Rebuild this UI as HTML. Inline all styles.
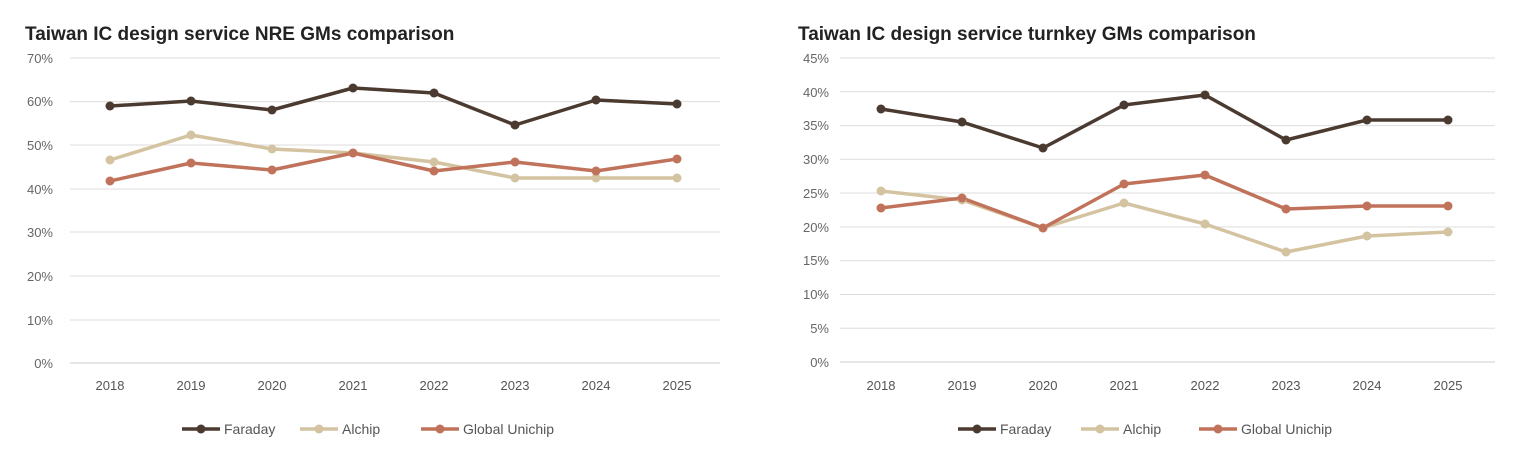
<!DOCTYPE html><html><head><style>body{margin:0;background:#fff;width:1538px;height:458px;overflow:hidden}svg text{font-family:"Liberation Sans",sans-serif}</style></head><body>
<svg width="1538" height="458" xmlns="http://www.w3.org/2000/svg">
<g font-size="13" fill="#666">
<text x="25" y="40" font-size="19" font-weight="bold" fill="#222">Taiwan IC design service NRE GMs comparison</text>
<text x="798" y="40" font-size="19" font-weight="bold" fill="#222">Taiwan IC design service turnkey GMs comparison</text>
</g>
<g stroke="#ddd" stroke-width="1">
<line x1="70" x2="720" y1="58" y2="58"/><line x1="70" x2="720" y1="101.6" y2="101.6"/><line x1="70" x2="720" y1="145" y2="145"/><line x1="70" x2="720" y1="189" y2="189"/><line x1="70" x2="720" y1="232" y2="232"/><line x1="70" x2="720" y1="276" y2="276"/><line x1="70" x2="720" y1="320" y2="320"/><line x1="70" x2="720" y1="363" y2="363" stroke="#ccc"/>
<line x1="840" x2="1495" y1="58" y2="58"/><line x1="840" x2="1495" y1="91.8" y2="91.8"/><line x1="840" x2="1495" y1="125.6" y2="125.6"/><line x1="840" x2="1495" y1="159.3" y2="159.3"/><line x1="840" x2="1495" y1="193" y2="193"/><line x1="840" x2="1495" y1="227" y2="227"/><line x1="840" x2="1495" y1="260.7" y2="260.7"/><line x1="840" x2="1495" y1="294.5" y2="294.5"/><line x1="840" x2="1495" y1="328.3" y2="328.3"/><line x1="840" x2="1495" y1="362" y2="362" stroke="#ccc"/>
</g>
<g font-size="13" fill="#666" text-anchor="end">
<text x="53" y="63">70%</text><text x="53" y="106">60%</text><text x="53" y="150">50%</text><text x="53" y="194">40%</text><text x="53" y="237">30%</text><text x="53" y="281">20%</text><text x="53" y="325">10%</text><text x="53" y="368">0%</text>
<text x="829" y="63">45%</text><text x="829" y="97">40%</text><text x="829" y="130">35%</text><text x="829" y="164">30%</text><text x="829" y="198">25%</text><text x="829" y="232">20%</text><text x="829" y="265">15%</text><text x="829" y="299">10%</text><text x="829" y="333">5%</text><text x="829" y="367">0%</text>
</g>
<g font-size="13" fill="#555" text-anchor="middle">
<text x="110" y="390">2018</text><text x="191" y="390">2019</text><text x="272" y="390">2020</text><text x="353" y="390">2021</text><text x="434" y="390">2022</text><text x="515" y="390">2023</text><text x="596" y="390">2024</text><text x="677" y="390">2025</text>
<text x="881" y="390">2018</text><text x="962" y="390">2019</text><text x="1043" y="390">2020</text><text x="1124" y="390">2021</text><text x="1205" y="390">2022</text><text x="1286" y="390">2023</text><text x="1367" y="390">2024</text><text x="1448" y="390">2025</text>
</g>
<g fill="none" stroke-width="3.5" stroke-linejoin="round">
<polyline stroke="#d4c3a0" points="110,160 191,135 272,149 353,153 434,162 515,178 596,178 677,178"/>
<polyline stroke="#c0735a" points="110,181 191,163 272,170 353,153 434,171 515,162 596,171 677,159"/>
<polyline stroke="#4a3a30" points="110,106 191,101 272,110 353,88 434,93 515,125 596,100 677,104"/>
<polyline stroke="#d4c3a0" points="881,191 962,200 1043,228 1124,203 1205,224 1286,252 1367,236 1448,232"/>
<polyline stroke="#c0735a" points="881,208 962,198 1043,228 1124,184 1205,175 1286,209 1367,206 1448,206"/>
<polyline stroke="#4a3a30" points="881,109 962,122 1043,148 1124,105 1205,95 1286,140 1367,120 1448,120"/>
</g>
<g fill="#d4c3a0"><circle cx="110" cy="160" r="4.5"/><circle cx="191" cy="135" r="4.5"/><circle cx="272" cy="149" r="4.5"/><circle cx="353" cy="153" r="4.5"/><circle cx="434" cy="162" r="4.5"/><circle cx="515" cy="178" r="4.5"/><circle cx="596" cy="178" r="4.5"/><circle cx="677" cy="178" r="4.5"/>
<circle cx="881" cy="191" r="4.5"/><circle cx="962" cy="200" r="4.5"/><circle cx="1043" cy="228" r="4.5"/><circle cx="1124" cy="203" r="4.5"/><circle cx="1205" cy="224" r="4.5"/><circle cx="1286" cy="252" r="4.5"/><circle cx="1367" cy="236" r="4.5"/><circle cx="1448" cy="232" r="4.5"/></g>
<g fill="#c0735a"><circle cx="110" cy="181" r="4.5"/><circle cx="191" cy="163" r="4.5"/><circle cx="272" cy="170" r="4.5"/><circle cx="353" cy="153" r="4.5"/><circle cx="434" cy="171" r="4.5"/><circle cx="515" cy="162" r="4.5"/><circle cx="596" cy="171" r="4.5"/><circle cx="677" cy="159" r="4.5"/>
<circle cx="881" cy="208" r="4.5"/><circle cx="962" cy="198" r="4.5"/><circle cx="1043" cy="228" r="4.5"/><circle cx="1124" cy="184" r="4.5"/><circle cx="1205" cy="175" r="4.5"/><circle cx="1286" cy="209" r="4.5"/><circle cx="1367" cy="206" r="4.5"/><circle cx="1448" cy="206" r="4.5"/></g>
<g fill="#4a3a30"><circle cx="110" cy="106" r="4.5"/><circle cx="191" cy="101" r="4.5"/><circle cx="272" cy="110" r="4.5"/><circle cx="353" cy="88" r="4.5"/><circle cx="434" cy="93" r="4.5"/><circle cx="515" cy="125" r="4.5"/><circle cx="596" cy="100" r="4.5"/><circle cx="677" cy="104" r="4.5"/>
<circle cx="881" cy="109" r="4.5"/><circle cx="962" cy="122" r="4.5"/><circle cx="1043" cy="148" r="4.5"/><circle cx="1124" cy="105" r="4.5"/><circle cx="1205" cy="95" r="4.5"/><circle cx="1286" cy="140" r="4.5"/><circle cx="1367" cy="120" r="4.5"/><circle cx="1448" cy="120" r="4.5"/></g>
<g stroke-width="3.5">
<line x1="182" x2="220" y1="429" y2="429" stroke="#4a3a30"/><circle cx="201" cy="429" r="4.5" fill="#4a3a30"/>
<line x1="300" x2="338" y1="429" y2="429" stroke="#d4c3a0"/><circle cx="319" cy="429" r="4.5" fill="#d4c3a0"/>
<line x1="421" x2="459" y1="429" y2="429" stroke="#c0735a"/><circle cx="440" cy="429" r="4.5" fill="#c0735a"/>
<line x1="958" x2="996" y1="429" y2="429" stroke="#4a3a30"/><circle cx="977" cy="429" r="4.5" fill="#4a3a30"/>
<line x1="1081" x2="1119" y1="429" y2="429" stroke="#d4c3a0"/><circle cx="1100" cy="429" r="4.5" fill="#d4c3a0"/>
<line x1="1199" x2="1237" y1="429" y2="429" stroke="#c0735a"/><circle cx="1218" cy="429" r="4.5" fill="#c0735a"/>
</g>
<g font-size="14" fill="#555">
<text x="224" y="434">Faraday</text><text x="342" y="434">Alchip</text><text x="463" y="434">Global Unichip</text>
<text x="1000" y="434">Faraday</text><text x="1123" y="434">Alchip</text><text x="1241" y="434">Global Unichip</text>
</g>
</svg></body></html>
